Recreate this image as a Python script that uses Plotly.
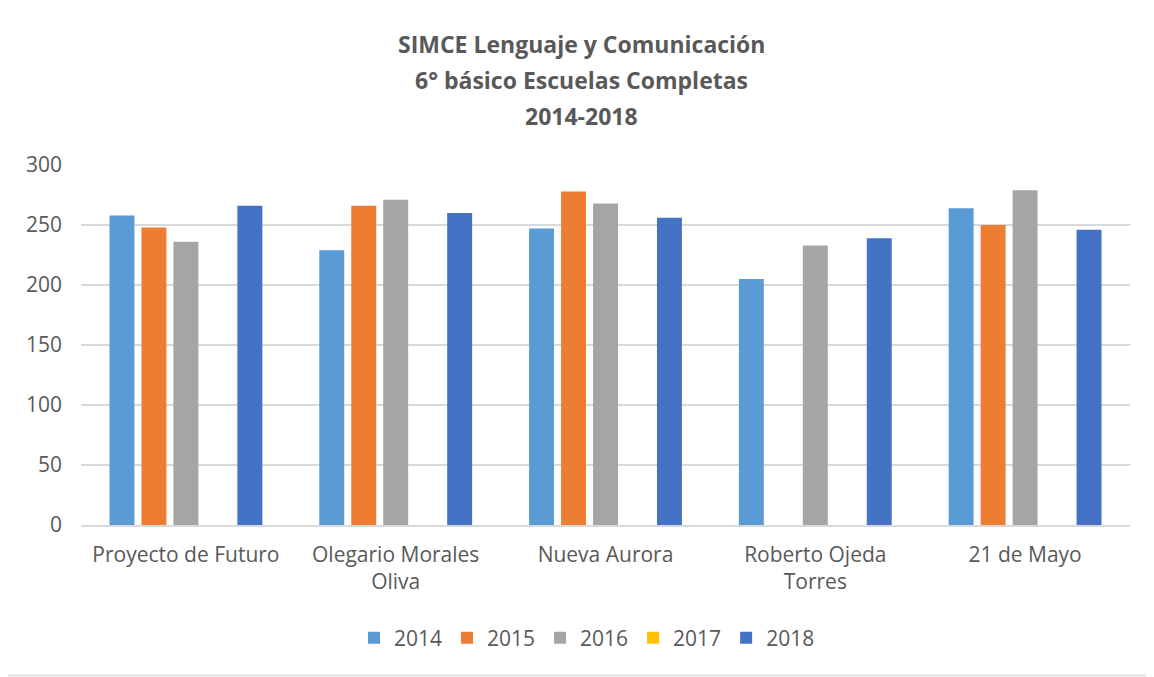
import plotly.graph_objects as go

schools = ["Proyecto de Futuro", "Olegario Morales<br>Oliva", "Nueva Aurora",
           "Roberto Ojeda<br>Torres", "21 de Mayo"]
years = ["2014", "2015", "2016", "2017", "2018"]
v2014 = [258, 229, 247, 205, 264]
v2015 = [248, 266, 278, None, 250]
v2016 = [236, 271, 268, 233, 279]
v2017 = [None, None, None, None, None]
v2018 = [266, 260, 256, 239, 246]
colors = ["#5B9BD5", "#ED7D31", "#A5A5A5", "#FFC000", "#4472C4"]
title_lines = ["SIMCE Lenguaje y Comunicación", "6° básico Escuelas Completas", "2014-2018"]

series = [v2014, v2015, v2016, v2017, v2018]
FONT = "'Open Sans', sans-serif"
TXT = "#595959"

fig = go.Figure()
for name, vals, col in zip(years, series, colors):
    fig.add_trace(go.Bar(x=schools, y=vals, name=name,
                         marker=dict(color=col, line=dict(width=0))))

OFF = 8  # browser body margin
PL, PR, PT, PB = 81, 1130, 165, 525  # plot area in screen pixels
W, H = 1154 - OFF, 677 - OFF
L, T = PL - OFF, PT - OFF
R, B = 1154 - PR, 677 - PB
pw, ph = PR - PL, PB - PT

def px_x(x):
    return (x - PL) / pw

def px_y(y):
    return (PB - y) / ph

annotations = []
for i, line in enumerate(title_lines):
    annotations.append(dict(text="<b>" + line + "</b>", x=px_x(581), y=px_y(44 + 36 * i),
                            xref="paper", yref="paper", showarrow=False,
                            xanchor="center", yanchor="middle",
                            font=dict(family=FONT, size=23, color=TXT)))

fig.update_layout(
    width=W, height=H,
    margin=dict(l=L, r=R, t=T, b=B, autoexpand=False),
    paper_bgcolor="white", plot_bgcolor="white",
    barmode="group", bargap=0.238, bargroupgap=0.22,
    font=dict(family=FONT, size=21, color=TXT),
    annotations=annotations,
    showlegend=True,
    legend=dict(orientation="h", x=px_x(587), y=px_y(638), xanchor="center", yanchor="middle",
                font=dict(family=FONT, size=21, color=TXT), traceorder="normal",
                itemwidth=30),
    shapes=[dict(type="line", xref="paper", yref="paper",
                 x0=px_x(OFF), x1=px_x(1154), y0=px_y(675.5), y1=px_y(675.5),
                 line=dict(color="#D9D9D9", width=1.5))],
)
fig.update_xaxes(showgrid=False, showline=True, linecolor="#D9D9D9", linewidth=1.5,
                 ticks="", ticklabelstandoff=10,
                 tickfont=dict(family=FONT, size=21, color=TXT), tickangle=0)
fig.update_yaxes(range=[0, 300], dtick=50, showgrid=True, gridcolor="#D9D9D9", gridwidth=1.5,
                 zeroline=False, showline=False, ticks="", ticklabelstandoff=18,
                 tickfont=dict(family=FONT, size=21, color=TXT))

fig.write_html("out.html")
